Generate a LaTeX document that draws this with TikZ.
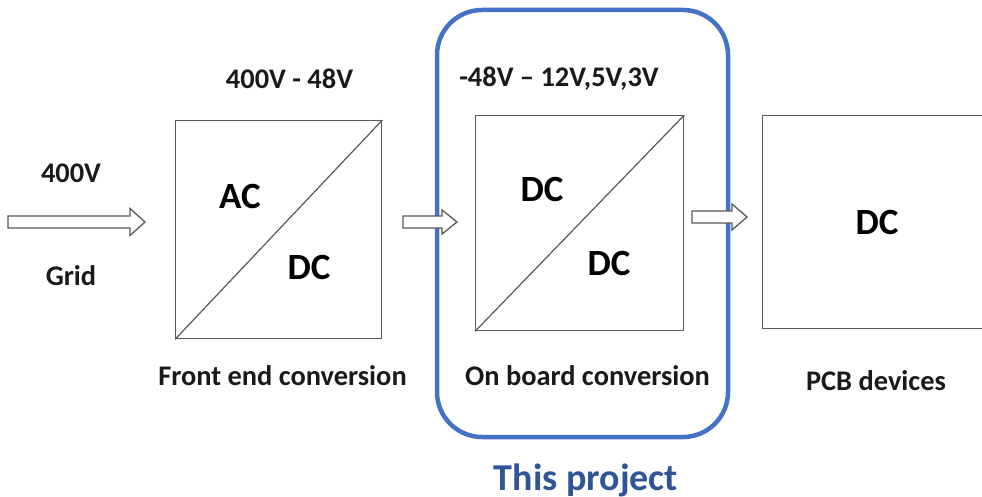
\documentclass[tikz,border=0pt]{standalone}
\usepackage{fontspec}
\setmainfont{Carlito}
\usetikzlibrary{calc}
\definecolor{projblue}{HTML}{4472C4}
\definecolor{projtext}{HTML}{2F5597}
\definecolor{boxgray}{HTML}{595959}
\definecolor{txt}{HTML}{1A1A1A}
\newcommand\blockarrow[3]{% start, tip, head half-height
  \draw[barrow] ($(#1)+(0,-6)$) -- ($(#2)+(-15,-6)$) -- ($(#2)+(-15,-#3)$) -- (#2)
    -- ($(#2)+(-15,#3)$) -- ($(#2)+(-15,6)$) -- ($(#1)+(0,6)$) -- cycle;}
\begin{document}
\begin{tikzpicture}[x=1pt,y=-1pt,
  conv/.style={draw=boxgray, line width=1.4pt, inner sep=0, anchor=north west},
  barrow/.style={draw=boxgray, fill=white, line width=1.3pt, line join=miter},
  lbl/.style={font=\bfseries\fontsize{28.4}{32}\selectfont, text=txt, inner sep=0, anchor=base},
  big/.style={font=\bfseries\fontsize{37}{40}\selectfont, text=black, inner sep=0, anchor=base}]
\useasboundingbox[fill=white] (0,0) rectangle (982,497);

% project frame
\node[draw=projblue, line width=4.5pt, rounded corners=45pt, minimum width=291pt,
      minimum height=427pt, inner sep=0] (proj) at (582.5,223.5) {};

% converter boxes
\node[conv, minimum width=206pt, minimum height=218pt] (fe) at (175,120) {};
\draw[draw=boxgray, line width=1.2pt] (fe.south west) -- (fe.north east);
\node[conv, minimum width=208pt, minimum height=215pt] (ob) at (475,115) {};
\draw[draw=boxgray, line width=1.2pt] (ob.south west) -- (ob.north east);
\node[conv, minimum width=222pt, minimum height=213pt] (pcb) at (762,115) {};

% arrows
\coordinate (a1s) at (8,222);
\coordinate (a1e) at (145,222);
\coordinate (a2s) at (403,222);
\coordinate (a2e) at (457,222);
\coordinate (a3s) at (692,217);
\coordinate (a3e) at (747,217);
\blockarrow{a1s}{a1e}{13.5}
\blockarrow{a2s}{a2e}{12}
\blockarrow{a3s}{a3e}{13}

% labels
\node[lbl] (v400) at (71,183) {400V};
\node[lbl] (grid) at (71,285) {Grid};
\node[lbl] (fev) at (289.5,89) {400V - 48V};
\node[lbl] (obv) at (559,87) {-48V – 12V,5V,3V};
\node[big] (ac) at (240,208) {AC};
\node[big] (dc1) at (309,279) {DC};
\node[big] (dc2) at (542,202) {DC};
\node[big] (dc3) at (609,275) {DC};
\node[big] (dc4) at (877,234) {DC};
\node[lbl] (fel) at (282.5,385) {Front end conversion};
\node[lbl] (obl) at (587.5,385) {On board conversion};
\node[lbl] (pcbl) at (876,390) {PCB devices};
\node[font=\bfseries\fontsize{38}{42}\selectfont, text=projtext, inner sep=0, anchor=base] (tp) at (586,490) {This project};
\end{tikzpicture}
\end{document}
